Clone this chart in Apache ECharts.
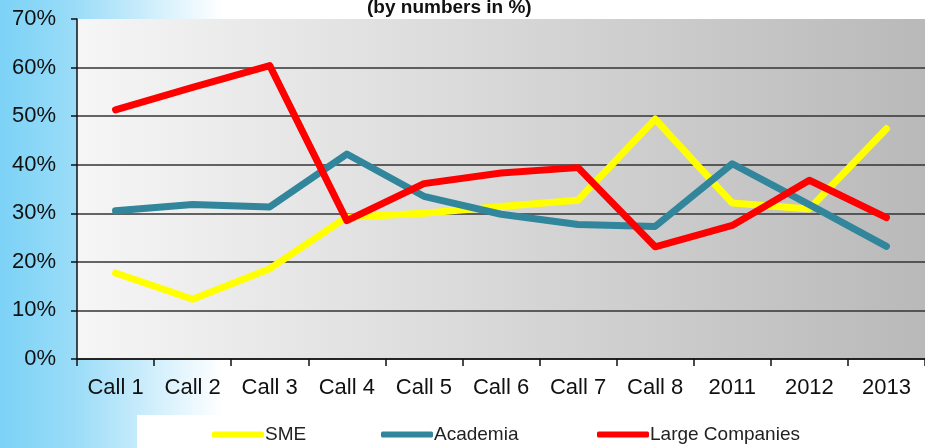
<!DOCTYPE html>
<html>
<head>
<meta charset="utf-8">
<script src="https://cdn.jsdelivr.net/npm/echarts@6/dist/echarts.min.js"></script>
<style>html,body{margin:0;padding:0;background:#fff;}#c{width:925px;height:448px;}</style>
</head>
<body>
<div id="c"></div>
<script>
var categories = ['Call 1','Call 2','Call 3','Call 4','Call 5','Call 6','Call 7','Call 8','2011','2012','2013'];
var sme = [17.7, 12.3, 18.6, 29.2, 30.0, 31.4, 32.7, 49.4, 32.1, 30.9, 47.4];
var academia = [30.5, 31.8, 31.3, 42.2, 33.5, 29.8, 27.7, 27.3, 40.2, 31.8, 23.2];
var large = [51.3, 55.9, 60.4, 28.5, 36.1, 38.3, 39.4, 23.1, 27.5, 36.8, 29.1];
var seriesNames = ['SME', 'Academia', 'Large Companies'];
var titleText = '(by numbers in %)';

var chart = echarts.init(document.getElementById('c'));
var font = 'Liberation Sans, Arial, sans-serif';
var lineColors = ['#ffff00', '#31869b', '#ff0000'];
function legendAt(name, left) {
  return {
    data: [name], left: left, top: 420, itemWidth: 52, itemHeight: 6, itemGap: 0,
    icon: 'roundRect',
    textStyle: { fontFamily: font, fontSize: 19, color: '#222', padding: [0, 0, 0, -4] }
  };
}
chart.setOption({
  animation: false,
  backgroundColor: {
    type: 'linear', x: 0, y: 0, x2: 1, y2: 0,
    colorStops: [
      { offset: 0, color: '#7cd2f6' },
      { offset: 0.08, color: '#9adcf8' },
      { offset: 0.24, color: '#ffffff' },
      { offset: 1, color: '#ffffff' }
    ]
  },
  graphic: [{
    type: 'rect', left: 137, top: 415, z: -1,
    shape: { width: 788, height: 33 },
    style: { fill: '#ffffff' }
  }],
  title: {
    text: titleText, left: 362, top: -7,
    textStyle: { fontFamily: font, fontSize: 19, fontWeight: 'bold', color: '#111' }
  },
  legend: [
    legendAt(seriesNames[0], 207),
    legendAt(seriesNames[1], 376),
    legendAt(seriesNames[2], 592)
  ],
  grid: {
    left: 77, top: 19, width: 856, height: 340, show: true, borderWidth: 0,
    backgroundColor: {
      type: 'linear', x: 0, y: 0, x2: 1, y2: 0,
      colorStops: [
        { offset: 0, color: '#f6f6f6' },
        { offset: 1, color: '#b9b9b9' }
      ]
    }
  },
  xAxis: {
    type: 'category', data: categories, boundaryGap: true,
    axisLine: { lineStyle: { color: '#111', width: 1.5 } },
    axisTick: { show: true, length: 7, lineStyle: { color: '#111', width: 1.5 } },
    axisLabel: { fontFamily: font, fontSize: 22, color: '#111', margin: 18, interval: 0 }
  },
  yAxis: {
    type: 'value', min: 0, max: 70, interval: 10,
    axisLine: { show: true, lineStyle: { color: '#111', width: 1.5 } },
    axisTick: { show: true, length: 6, lineStyle: { color: '#111', width: 1.5 } },
    axisLabel: { fontFamily: font, fontSize: 22, color: '#111', margin: 21, formatter: '{value}%' },
    splitLine: { show: true, lineStyle: { color: ['#333','#333','#333','#333','#333','#333','#333','rgba(0,0,0,0)'], width: 1.5 } }
  },
  series: [
    { name: seriesNames[0], type: 'line', data: sme, symbol: 'none', z: 3,
      itemStyle: { color: lineColors[0] },
      lineStyle: { color: lineColors[0], width: 7, cap: 'round', join: 'round' } },
    { name: seriesNames[1], type: 'line', data: academia, symbol: 'none', z: 4,
      itemStyle: { color: lineColors[1] },
      lineStyle: { color: lineColors[1], width: 7, cap: 'round', join: 'round' } },
    { name: seriesNames[2], type: 'line', data: large, symbol: 'none', z: 5,
      itemStyle: { color: lineColors[2] },
      lineStyle: { color: lineColors[2], width: 7, cap: 'round', join: 'round' } }
  ]
});
</script>
</body>
</html>
